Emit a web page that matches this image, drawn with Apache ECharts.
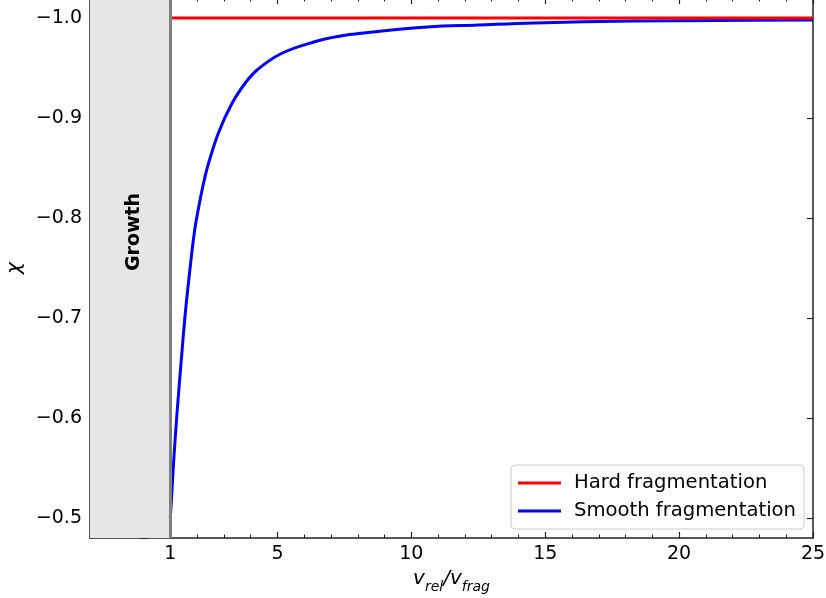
<!DOCTYPE html>
<html>
<head>
<meta charset="utf-8">
<script src="https://cdn.jsdelivr.net/npm/echarts@6/dist/echarts.min.js"></script>
<style>html,body{margin:0;padding:0;background:#fff;}#c{width:826px;height:598px;}</style>
</head>
<body>
<div id="c"></div>
<script>
// Data
const hardX = [1, 25];
const hardY = [-1.0, -1.0];
const smoothX = [1.00, 1.06, 1.12, 1.25, 1.40, 1.56, 1.75, 1.91, 2.06, 2.25, 2.43, 2.81, 3.31, 3.80, 4.24, 5.11, 6.36, 7.36, 8.22, 10.6, 12.5, 14.6, 18.3, 21.5, 25.0];
const smoothY = [-0.500, -0.527, -0.555, -0.605, -0.655, -0.705, -0.753, -0.788, -0.811, -0.836, -0.855, -0.886, -0.915, -0.935, -0.948, -0.964, -0.976, -0.982, -0.985, -0.991, -0.993, -0.995, -0.997, -0.9975, -0.998];
const xTicks = [1, 5, 10, 15, 20, 25];
const yTicks = [-1.0, -0.9, -0.8, -0.7, -0.6, -0.5];
const seriesNames = ['Hard fragmentation', 'Smooth fragmentation'];
const growthRange = [-2, 1];
const growthLabel = 'Growth';
const growthLabelPos = [-0.35, -0.786];

const FONT = 'DejaVu Sans';
const AX = '#222';
const xMin = -2, xMax = 25, yMin = -1.02, yMax = -0.48;

function zip(a, b) { return a.map((v, i) => [v, b[i]]); }
function fmt(v) { return Number(v).toFixed(1).replace('-', '\u2212'); }

const majorX = (pos, labels, name) => ({
  type: 'value', position: pos, min: xMin, max: xMax, gridIndex: 0,
  axisLine: { show: true, onZero: false, lineStyle: { color: AX, width: 1.5 } },
  axisTick: { show: true, inside: true, length: 6, customValues: xTicks, lineStyle: { color: AX, width: 1.2 } },
  axisLabel: labels ? { show: true, customValues: xTicks, fontSize: 19, color: '#000', fontFamily: FONT, margin: 7 } : { show: false },
  splitLine: { show: false },
  name: name || '', nameLocation: 'middle', nameGap: 30,
  nameTextStyle: {
    fontFamily: FONT, color: '#000',
    rich: {
      a: { fontSize: 20, fontStyle: 'italic', fontFamily: FONT, color: '#000', lineHeight: 25, verticalAlign: 'top' },
      b: { fontSize: 14, fontStyle: 'italic', fontFamily: FONT, color: '#000', lineHeight: 25, verticalAlign: 'bottom' }
    }
  }
});
const minorX = (pos) => ({
  type: 'value', position: pos, min: xMin, max: xMax, interval: 1, gridIndex: 0,
  axisLine: { show: false }, axisLabel: { show: false }, splitLine: { show: false },
  axisTick: { show: true, inside: true, length: 3.5, lineStyle: { color: AX, width: 1 } }
});
const majorY = (pos, labels, name) => ({
  type: 'value', position: pos, min: yMin, max: yMax, inverse: true, gridIndex: 0,
  axisLine: { show: true, onZero: false, lineStyle: { color: AX, width: 1.5 } },
  axisTick: { show: true, inside: true, length: 6, customValues: yTicks, lineStyle: { color: AX, width: 1.2 } },
  axisLabel: labels ? { show: true, customValues: yTicks, fontSize: 19, color: '#000', fontFamily: FONT, margin: 8, formatter: fmt } : { show: false },
  splitLine: { show: false },
  name: name || '', nameLocation: 'middle', nameGap: 60, nameRotate: 90,
  nameTextStyle: { fontFamily: FONT, fontStyle: 'italic', fontSize: 20, color: '#000' }
});
const minorY = (pos) => ({
  type: 'value', position: pos, min: yMin, max: yMax, interval: 0.02, inverse: true, gridIndex: 0,
  axisLine: { show: false }, axisLabel: { show: false }, splitLine: { show: false },
  axisTick: { show: true, inside: true, length: 3.5, lineStyle: { color: AX, width: 1 } }
});

const chart = echarts.init(document.getElementById('c'), null, { renderer: 'canvas' });
chart.setOption({
  animation: false,
  backgroundColor: '#fff',
  textStyle: { fontFamily: FONT },
  grid: { left: 90, right: 13, top: -2, bottom: 60, containLabel: false, outerBoundsMode: 'none' },
  xAxis: [
    majorX('bottom', true, '{a|v}{b|rel}{a|/v}{b|frag}'),
    minorX('bottom'),
    majorX('top', false),
    minorX('top')
  ],
  yAxis: [
    majorY('left', true, '\u03c7'),
    minorY('left'),
    majorY('right', false),
    minorY('right')
  ],
  legend: {
    data: seriesNames,
    orient: 'vertical',
    left: 511, top: 465,
    padding: [8, 8, 8, 7],
    itemGap: 8,
    itemWidth: 43, itemHeight: 3,
    icon: 'rect',
    borderColor: '#cccccc', borderWidth: 1, borderRadius: 4,
    backgroundColor: 'rgba(255,255,255,0.8)',
    textStyle: { fontSize: 19.6, color: '#000', fontFamily: FONT, lineHeight: 20, padding: [0, 0, 0, 8] }
  },
  series: [
    {
      name: seriesNames[0], type: 'line', xAxisIndex: 0, yAxisIndex: 0,
      data: zip(hardX, hardY), showSymbol: false, symbol: 'none',
      color: '#ff0000', lineStyle: { color: '#ff0000', width: 3 }, z: 3,
      markArea: {
        silent: true,
        itemStyle: { color: '#e6e6e6' },
        data: [[{ xAxis: growthRange[0] }, { xAxis: growthRange[1] }]]
      },
      markLine: {
        silent: true, symbol: ['none', 'none'],
        label: { show: false },
        lineStyle: { color: '#808080', width: 3, type: 'solid' },
        data: [{ xAxis: growthRange[1] }]
      },
      markPoint: {
        silent: true, symbol: 'circle', symbolSize: 0,
        itemStyle: { color: 'transparent' },
        label: { show: true, position: 'inside', rotate: 90, formatter: growthLabel, fontSize: 19, fontWeight: 'bold', color: '#000', fontFamily: FONT },
        data: [{ coord: growthLabelPos }]
      }
    },
    {
      name: seriesNames[1], type: 'line', xAxisIndex: 0, yAxisIndex: 0,
      data: zip(smoothX, smoothY), showSymbol: false, symbol: 'none',
      smooth: 0.4,
      color: '#0000ff', lineStyle: { color: '#0000ff', width: 3 }, z: 2
    }
  ]
});
</script>
</body>
</html>
